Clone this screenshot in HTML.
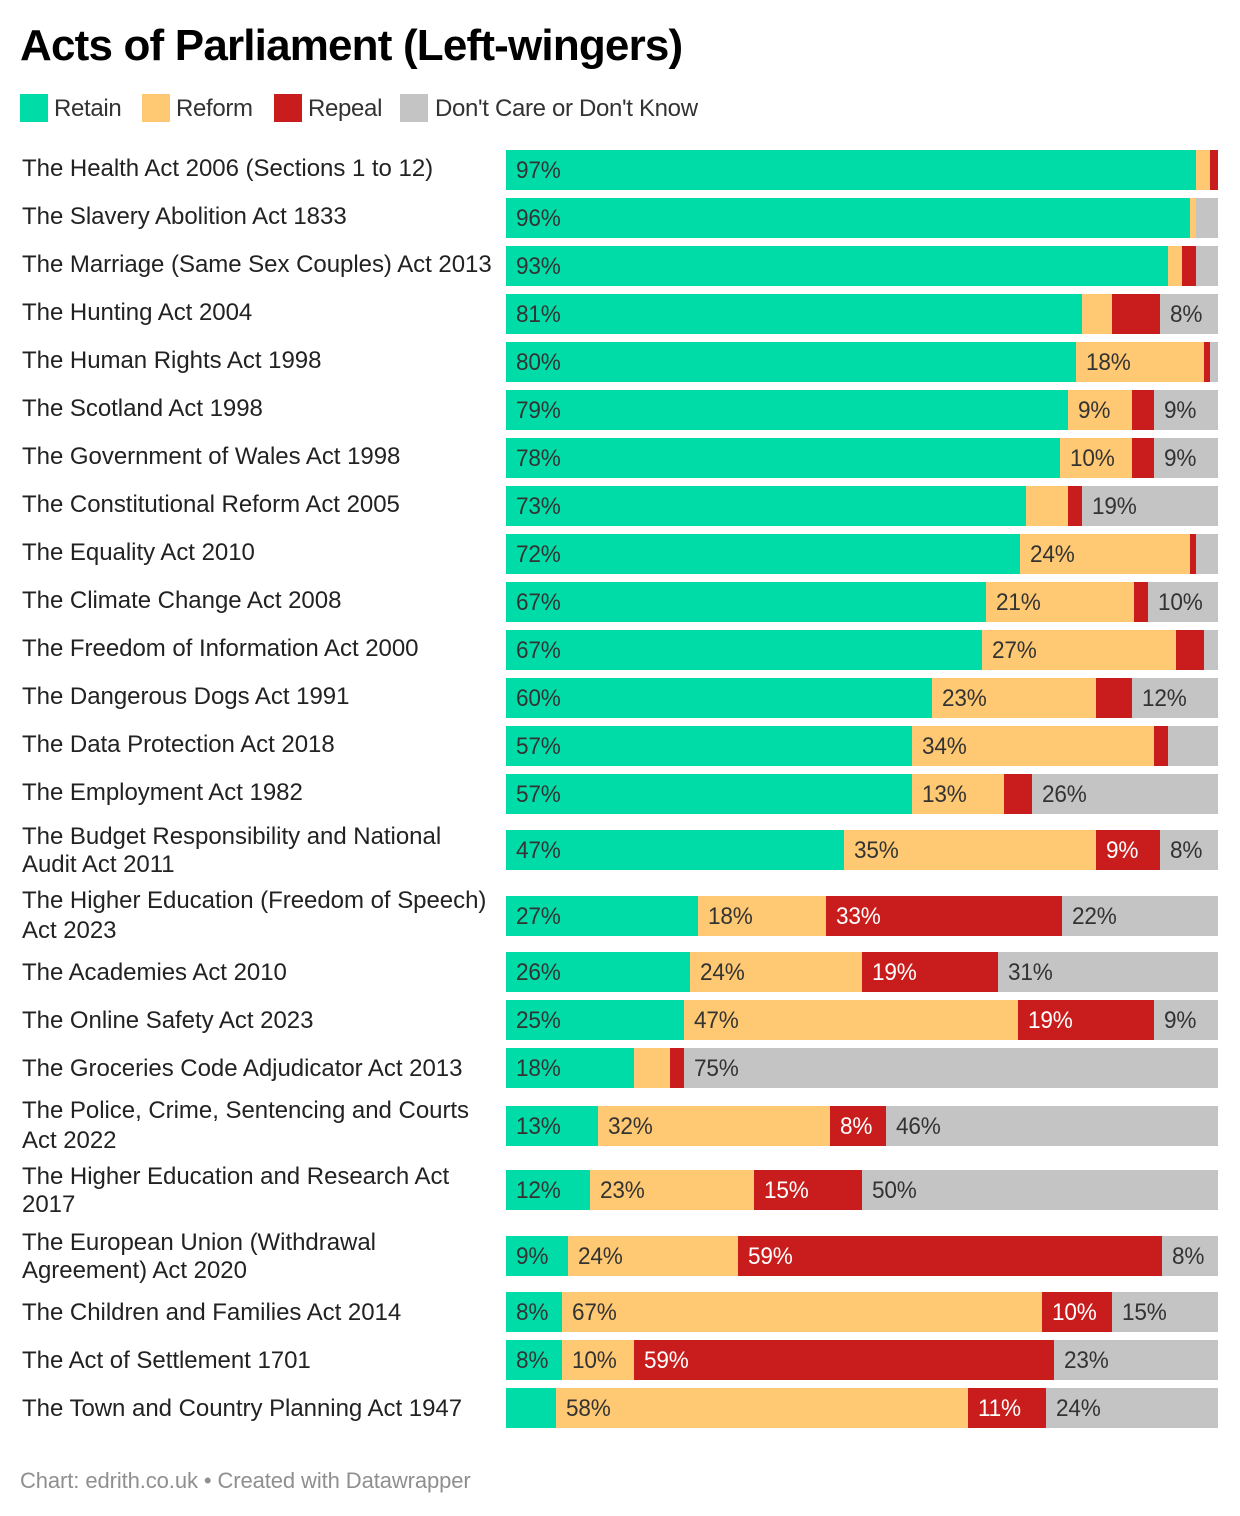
<!DOCTYPE html>
<html lang="en">
<head>
<meta charset="utf-8">
<title>Acts of Parliament (Left-wingers)</title>
<style>
  html, body { margin: 0; padding: 0; background: #fff; }
  body { width: 1240px; height: 1516px; position: relative; overflow: hidden; font-family: "Liberation Sans", sans-serif; color: #333; }
  #title { position: absolute; left: 20px; top: 19px; margin: 0; font-size: 44px; line-height: 54px; font-weight: bold; color: #000; letter-spacing: -0.82px; white-space: nowrap; }
  .swatch { position: absolute; top: 94px; width: 28px; height: 28px; }
  .legend-text { position: absolute; top: 94px; font-size: 24px; line-height: 30px; white-space: nowrap; letter-spacing: -0.33px; }
  #chart { position: absolute; left: 0; top: 146px; width: 1240px; }
  .row { position: relative; height: 48px; }
  .row:nth-child(15) { margin-top: 8px; }
  .row:nth-child(16) { margin-top: 18px; }
  .row:nth-child(17) { margin-top: 8px; }
  .row:nth-child(20) { margin-top: 10px; }
  .row:nth-child(21) { margin-top: 16px; }
  .row:nth-child(22) { margin-top: 18px; }
  .row:nth-child(23) { margin-top: 8px; }
  .row-label { position: absolute; left: 22px; width: 475px; top: 4px; height: 36px; display: flex; align-items: center; font-size: 24px; line-height: 28px; letter-spacing: -0.03px; margin-top: 1px; color: #222; white-space: nowrap; }
  .row:nth-child(n+15) .row-label { margin-top: 3px; }
  .row:nth-child(16) .row-label, .row:nth-child(20) .row-label { line-height: 30px; margin-top: 2px; }
  .segment { position: absolute; top: 4px; height: 40px; overflow: visible; }
  .value { position: absolute; left: 9.5px; top: 0; line-height: 41px; font-size: 24px; letter-spacing: -0.2px; white-space: nowrap; color: #333; transform: scaleX(0.94); transform-origin: left center; }
  .value.on-dark { color: #fff; }
  #footer { position: absolute; left: 20px; top: 1467px; font-size: 22px; line-height: 28px; color: #8f8f8f; white-space: nowrap; letter-spacing: -0.1px; }
</style>
</head>
<body>
<h1 id="title">Acts of Parliament (Left-wingers)</h1>

<div class="swatch" style="left:20px;background:#00dca8"></div>
<div class="legend-text" style="left:54px">Retain</div>
<div class="swatch" style="left:142px;background:#ffc973"></div>
<div class="legend-text" style="left:176px">Reform</div>
<div class="swatch" style="left:274px;background:#c91d1d"></div>
<div class="legend-text" style="left:308px">Repeal</div>
<div class="swatch" style="left:400px;background:#c4c4c4"></div>
<div class="legend-text" style="left:435px">Don't Care or Don't Know</div>

<div id="chart"></div>

<div id="footer">Chart: edrith.co.uk • Created with Datawrapper</div>

<script>
const categories = [
  "The Health Act 2006 (Sections 1 to 12)",
  "The Slavery Abolition Act 1833",
  "The Marriage (Same Sex Couples) Act 2013",
  "The Hunting Act 2004",
  "The Human Rights Act 1998",
  "The Scotland Act 1998",
  "The Government of Wales Act 1998",
  "The Constitutional Reform Act 2005",
  "The Equality Act 2010",
  "The Climate Change Act 2008",
  "The Freedom of Information Act 2000",
  "The Dangerous Dogs Act 1991",
  "The Data Protection Act 2018",
  "The Employment Act 1982",
  "The Budget Responsibility and National|Audit Act 2011",
  "The Higher Education (Freedom of Speech)|Act 2023",
  "The Academies Act 2010",
  "The Online Safety Act 2023",
  "The Groceries Code Adjudicator Act 2013",
  "The Police, Crime, Sentencing and Courts|Act 2022",
  "The Higher Education and Research Act|2017",
  "The European Union (Withdrawal|Agreement) Act 2020",
  "The Children and Families Act 2014",
  "The Act of Settlement 1701",
  "The Town and Country Planning Act 1947"
];
const retain = [96.9,96.1,93.0,80.9,80.1,78.9,77.8,73.0,72.2,67.4,66.9,59.8,57.0,57.0,47.4,27.0,25.8,25.0,18.0,13.0,11.8,8.7,7.9,7.9,7.0];
const reform = [2.0,0.8,2.0,4.2,18.0,9.0,10.1,5.9,23.9,20.8,27.2,23.0,34.0,12.9,35.4,18.0,24.2,46.9,5.1,32.49,23.0,23.9,67.4,10.1,57.9];
const repeal = [1.1,0,2.0,6.7,0.8,3.1,3.1,2.0,0.8,2.0,3.9,5.1,2.0,3.9,9.0,33.1,19.1,19.1,2.0,7.9,15.2,59.4,9.8,59.0,11.0];
const dontCare = [0,3.1,3.0,8.1,1.1,9.0,9.0,19.1,3.1,9.8,2.0,12.1,7.0,26.1,8.1,21.9,30.9,9.0,75.0,46.49,50.0,8.0,14.9,23.0,24.1];

const seriesNames = ["retain", "reform", "repeal", "dont-care"];
const seriesColors = ["#00dca8", "#ffc973", "#c91d1d", "#c4c4c4"];
const allSeries = [retain, reform, repeal, dontCare];
const labelThreshold = 7.5;

function xScale(v) {
  const x = 506 + Math.min(v, 100) * 7.12;
  return Math.round(x / 2) * 2;
}

const chart = document.getElementById("chart");
categories.forEach(function (name, i) {
  const row = document.createElement("div");
  row.className = "row";
  
  

  const label = document.createElement("div");
  label.className = "row-label";
  
  
  const inner = document.createElement("span");
  name.split("|").forEach(function (line, k) {
    if (k > 0) inner.appendChild(document.createElement("br"));
    inner.appendChild(document.createTextNode(line));
  });
  label.appendChild(inner);
  row.appendChild(label);

  let cum = 0;
  allSeries.forEach(function (series, s) {
    const v = series[i];
    const x0 = xScale(cum);
    cum += v;
    const x1 = xScale(cum);
    if (v <= 0 || x1 <= x0) return;
    const seg = document.createElement("div");
    seg.className = "segment";
    
    
    seg.style.left = x0 + "px";
    seg.style.width = (x1 - x0) + "px";
    seg.style.background = seriesColors[s];
    if (v >= labelThreshold) {
      const t = document.createElement("span");
      t.className = "value" + (s === 2 ? " on-dark" : "");
      
      
      t.textContent = Math.round(v) + "%";
      seg.appendChild(t);
    }
    row.appendChild(seg);
  });
  chart.appendChild(row);
});
</script>
</body>
</html>
